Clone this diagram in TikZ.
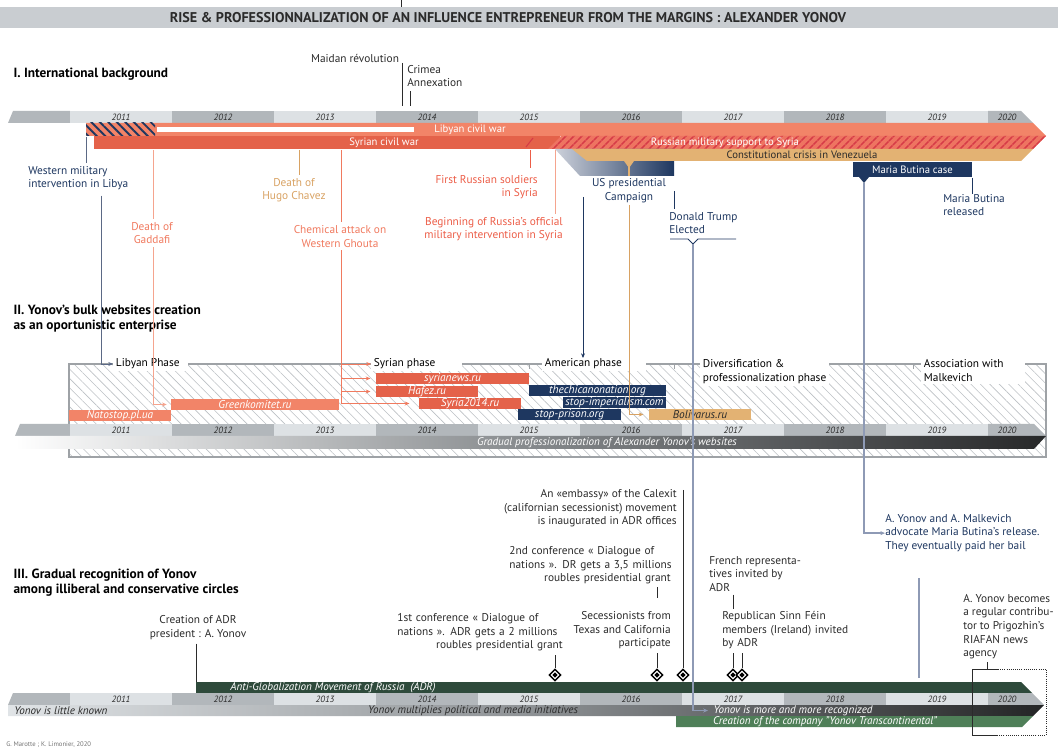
\documentclass[tikz,border=0pt]{standalone}
\usepackage{fontspec}
\setmainfont{PT Sans}
\usetikzlibrary{positioning, arrows.meta, patterns.meta, shapes.geometric}

\definecolor{salmon}{HTML}{F28468}
\definecolor{syred}{HTML}{E4624A}
\definecolor{rusbase}{HTML}{EE7461}
\definecolor{rushatch}{HTML}{D63B47}
\definecolor{navy}{HTML}{1E3760}
\definecolor{uslight}{HTML}{CDD1DA}
\definecolor{sand}{HTML}{E3B273}
\definecolor{adrgreen}{HTML}{2E4A3B}
\definecolor{cogreen}{HTML}{4F7F58}
\definecolor{yrlight}{HTML}{DDE1E4}
\definecolor{yrdark}{HTML}{B2B7BB}
\definecolor{bandgrey}{HTML}{C9CDD1}
\definecolor{hatchgrey}{HTML}{BCC0C4}
\definecolor{framegrey}{HTML}{9EA2A6}
\definecolor{navyline}{HTML}{8E9AB5}
\definecolor{wlinec}{HTML}{5B6985}
\definecolor{salmontxt}{HTML}{F07A5F}
\definecolor{salmonline}{HTML}{F5A48E}
\definecolor{redtxt}{HTML}{EC5D47}
\definecolor{sandtxt}{HTML}{D8A263}
\definecolor{darktxt}{HTML}{2B2B2B}

% year strip: top y, tip x, tip y, left x
\newcommand{\yearstrip}[4]{%
  \fill[yrdark] (#4,#1+12) -- (#4+5,#1) -- (70,#1) -- (70,#1+12) -- cycle;
  \foreach \k in {0,...,8}{%
    \ifodd\k\relax\def\yc{yrdark}\else\def\yc{yrlight}\fi
    \fill[\yc] ({70+102*\k},#1) rectangle ++(102,12);
    \pgfmathtruncatemacro\yr{2011+\k}
    \node[yeartxt] (yl\yr-#1) at ({121+102*\k},#1+6) {\yr};
  }
  \fill[yrdark] (988,#1) -- ({#2-(#3-#1)},#1) -- ({#2-(#3-#1-12)},#1+12) -- (988,#1+12) -- cycle;
  \node[yeartxt] (yl2020-#1) at (1007,#1+6) {2020};
}
\newcommand{\jline}[2]{\makebox[#1][s]{#2}}

\begin{document}
\begin{tikzpicture}[x=0.75pt, y=-0.75pt, >={Stealth[length=3.5pt,width=3pt]},
  lbl/.style={font=\fontsize{8.5}{10.25}\selectfont, inner sep=0pt},
  head/.style={font=\fontsize{10}{11.5}\selectfont\bfseries, inner sep=1pt, align=left, anchor=north west, fill=white},
  bartxt/.style={font=\fontsize{8}{9}\selectfont, text=white, inner sep=0pt},
  yeartxt/.style={font=\fontsize{6.8}{7}\selectfont\itshape, text=darktxt, inner sep=0pt},
  site/.style={minimum width=#1*0.75pt, minimum height=8.25pt, inner sep=0pt, font=\fontsize{8.5}{9}\selectfont\itshape, text=white},
  phase/.style={lbl, fill=white, inner xsep=2pt, inner ysep=1.5pt, align=left},
  evt/.style={diamond, draw=black, fill=white, line width=1.1pt, minimum size=9pt, inner sep=0pt,
    path picture={\fill[black] (path picture bounding box.center) ++(0,2pt) -- ++(2pt,-2pt) -- ++(-2pt,-2pt) -- ++(-2pt,2pt) -- cycle;}},
  evline/.style={draw=darktxt, line width=0.6pt},
  longline/.style={draw=navyline, line width=1.1pt}]

\useasboundingbox (0,0) rectangle (1058,752);

% Title
\fill[bandgrey] (0,7) rectangle (1058,28);
\coordinate (tt1) at (401,0);
\coordinate (tt2) at (401,7);
\draw[darktxt, line width=0.5pt] (tt1) -- (tt2);
\node[font=\fontsize{10.6}{12}\selectfont\bfseries, text=darktxt] (title) at (508,17.5) {RISE \& PROFESSIONNALIZATION OF AN INFLUENCE ENTREPRENEUR FROM THE MARGINS : ALEXANDER YONOV};

% I. International background
\node[head] (h1) at (12,66) {I. International background};
\node[lbl, text=darktxt] (maidan) at (355,58) {Maidan révolution};
\node[lbl, text=darktxt, align=left, anchor=north west] (crimea) at (407,65) {Crimea\\Annexation};
\coordinate (maidtop) at (402,63);
\coordinate (maidbot) at (402,106);
\coordinate (crimbot) at (410,106);
\draw[darktxt, line width=0.5pt] (maidtop) -- (maidbot);
\draw[darktxt, line width=0.5pt, shorten <=3pt] (crimbot |- crimea.south) -- (crimbot);

\yearstrip{111}{1046}{136}{8}

% Libyan civil war
\fill[salmon] (86,123) -- (1033,123) -- (1046,136) -- (86,136) -- cycle;
\fill[pattern={Lines[angle=-45,distance=4.5pt,line width=1.4pt]}, pattern color=navy] (86,123) rectangle (155,136);
\fill[white] (157,127) rectangle (414,132);
\node[bartxt] (libwar) at (470,129.5) {Libyan civil war};

% Syrian civil war and Russian support
\fill[syred] (94,136) rectangle (560,149);
\fill[rusbase] (548,149) -- (561,136) -- (1046,136) -- (1033,149) -- cycle;
\fill[pattern={Lines[angle=45,distance=4pt,line width=1.3pt]}, pattern color=rushatch] (548,149) -- (561,136) -- (1046,136) -- (1033,149) -- cycle;
\draw[rushatch, line width=0.8pt] (526,147) -- (533,138);
\node[bartxt] (syrwar) at (384,142.5) {Syrian civil war};
\node[bartxt] (russup) at (725,142.5) {Russian military support to Syria};

% US campaign and Venezuela
\shade[left color=uslight, right color=navy] (555,149) -- (674,149) -- (674,176) -- (580,176) -- cycle;
\fill[sand] (572,149) -- (1033,149) -- (1021,161) -- (587,161) -- cycle;
\node[bartxt, text=darktxt] (venez) at (802,155) {Constitutional crisis in Venezuela};
\fill[sand] (624,161) -- (634,161) -- (629,168) -- cycle;
\draw[sand, line width=0.8pt] (629,161) -- (629,176);

% Maria Butina
\node[fill=navy, bartxt, minimum width=119*0.75pt, minimum height=15*0.75pt] (butina) at (912.5,169.5) {Maria Butina case};
\fill[navy] (859,177) -- (869,177) -- (864,183) -- cycle;

% Event labels
\node[lbl, text=navy, align=left, anchor=north west] (wlibya) at (28,166) {Western military\\intervention in Libya};
\node[lbl, text=salmontxt, align=center, anchor=north] (gaddafi) at (152,222) {Death of\\Gaddafi};
\node[lbl, text=sandtxt, align=center, anchor=north] (chavez) at (294,178) {Death of\\Hugo Chavez};
\node[lbl, text=salmontxt, align=center, anchor=north] (ghouta) at (340,225) {Chemical attack on\\Western Ghouta};
\node[lbl, text=redtxt, align=right, anchor=north east] (soldiers) at (538,175) {First Russian soldiers\\in Syria};
\node[lbl, text=redtxt, align=right, anchor=north east] (begin) at (563,217) {Beginning of Russia's official\\military intervention in Syria};
\node[lbl, text=navy, align=center, anchor=north] (uscamp) at (629,178) {US presidential\\Campaign};
\node[lbl, text=navy, align=left, anchor=north west] (trump) at (669,212) {Donald Trump\\Elected};
\node[lbl, text=navy, align=left, anchor=north west] (released) at (943,194) {Maria Butina\\released};

\coordinate (wtop) at (86,137);
\coordinate (wdown) at (101,193);
\coordinate (gtop) at (153,150);
\coordinate (ctop) at (299,150);
\coordinate (ghtop) at (341,150);
\coordinate (stop) at (530,150);
\coordinate (btop) at (555,150);
\coordinate (amtop) at (583,197);
\coordinate (amtip) at (583,358);
\coordinate (trtick) at (674,191);
\coordinate (trv) at (693,244);
\coordinate (butv) at (864,183);
\coordinate (reltick) at (972,178);

\draw[wlinec, line width=0.6pt, shorten >=2pt] (wtop) -- (wtop |- wlibya.north);
\draw[salmonline, line width=0.7pt, shorten >=2pt] (gtop) -- (gtop |- gaddafi.north);
\draw[sandtxt, line width=0.6pt, shorten >=2pt] (ctop) -- (ctop |- chavez.north);
\draw[salmontxt, line width=0.6pt, shorten >=2pt] (ghtop) -- (ghtop |- ghouta.north);
\draw[redtxt, line width=0.6pt, shorten >=5pt] (stop) -- (stop |- soldiers.north);
\draw[salmonline, line width=0.7pt, shorten >=2pt] (btop) -- (btop |- begin.north);
\draw[navy, line width=0.6pt, shorten >=2pt] (trtick) -- (trtick |- trump.north);
\draw[navy, line width=0.6pt] (reltick) -- (reltick |- released.north);
\draw[navy, line width=0.6pt] (670,239) -- (688,239) -- (trv) -- (698,239) -- (736,239);

% II. Website creation
\fill[pattern={Lines[angle=-45,distance=5pt,line width=0.45pt]}, pattern color=hatchgrey] (69,364) rectangle (1046,457);
\draw[framegrey, line width=0.8pt] (69,364) rectangle (1046,457);
\foreach \tx in {529,674,913}
  \draw[framegrey, line width=0.6pt] (\tx,364) -- (\tx,369);

\yearstrip{424}{1046}{436}{15}
\shade[left color=white, right color=black!78!yrdark, middle color=black!25!yrdark] (15,436) -- (1046,436) -- (1034,449) -- (15,449) -- cycle;
\node[bartxt, font=\fontsize{8.3}{9}\selectfont\itshape] (gradual) at (607,442.5) {Gradual professionalization of Alexander Yonov's websites};

% Websites
\node[site=102, fill=salmon] (natostop) at (120,416) {Natostop.pl.ua};
\node[site=168, fill=salmon] (green) at (255,404.5) {Greenkomitet.ru};
\node[site=153, fill=syred] (syrnews) at (452.5,378.5) {syrianews.ru};
\node[site=102, fill=syred] (hafez) at (427,391.5) {Hafez.ru};
\node[site=102, fill=syred] (syr14) at (470,403.5) {Syria2014.ru};
\node[site=137, fill=navy] (chicano) at (597.5,390.7) {thechicanonation.org};
\node[site=103, fill=navy] (imper) at (614.5,402.5) {stop-imperialism.com};
\node[site=103, fill=navy] (prison) at (569.5,414.7) {stop-prison.org};
\node[site=102, fill=sand, text=darktxt] (boliv) at (700,414.5) {Bolivarus.ru};

% Phases
\node[phase, anchor=west] (libph) at (113,364) {Libyan Phase\hspace*{4pt}};
\node[phase, anchor=west] (syrph) at (371,364) {Syrian phase\hspace*{18pt}};
\node[phase, anchor=west] (amph) at (542,364) {American phase\hspace*{16pt}};
\node[phase, anchor=north west] (divph) at (700,357.5) {Diversification \&\hspace*{22pt}\\professionalization phase};
\node[phase, anchor=north west] (assph) at (921,357.5) {Association with\hspace*{14pt}\\Malkevich};

\node[head] (h2) at (12,303) {II. Yonov's bulk websites creation\\as an oportunistic enterprise};

% Arrows into phases and websites
\draw[wlinec, line width=0.6pt, ->, shorten <=2pt] (wdown) |- (libph.west);
\draw[salmonline, line width=0.7pt, ->, shorten >=3pt, shorten <=2pt] (gaddafi.south -| gtop) |- (green.west);
\draw[salmontxt, line width=0.6pt, ->, shorten >=7pt, shorten <=2pt] (ghouta.south -| ghtop) |- (syr14.west);
\draw[salmontxt, line width=0.6pt, ->] (ghtop |- syrph.west) -- (syrph.west);
\draw[salmontxt, line width=0.6pt, ->, shorten >=4pt] (ghtop |- syrnews.west) -- (syrnews.west);
\draw[salmontxt, line width=0.6pt, ->, shorten >=4pt] (ghtop |- hafez.west) -- (hafez.west);
\draw[sandtxt, line width=0.6pt, ->, shorten >=4pt, shorten <=2pt] (uscamp.south -| uscamp) |- (boliv.west);
\draw[navy, line width=0.6pt, ->] (amtop) -- (amtip);

% III. Recognition
\node[head] (h3) at (12,567) {III. Gradual recognition of Yonov\\among illiberal and conservative circles};

\fill[adrgreen] (196,682) -- (1021,682) -- (1032,693) -- (196,693) -- cycle;
\coordinate (adrstart) at (196,682);
\node[bartxt, font=\fontsize{8.3}{9}\selectfont\itshape] (adr) at (333,687.5) {Anti-Globalization Movement of Russia~ (ADR)};

\yearstrip{693}{1044}{705}{8}
\shade[left color=yrlight!90!white, right color=black!80!yrdark, middle color=black!20!yrdark] (8,705) -- (1044,705) -- (1033,716) -- (8,716) -- cycle;
\fill[cogreen] (676,716) -- (1033,716) -- (1022,727) -- (676,727) -- cycle;
\node[bartxt, font=\fontsize{8.3}{9}\selectfont\itshape, text=darktxt, anchor=west] (little) at (14,710.5) {Yonov is little known};
\node[bartxt, font=\fontsize{8.3}{9}\selectfont\itshape, text=darktxt] (multi) at (473,710.5) {Yonov multiplies political and media initiatives};
\node[bartxt, font=\fontsize{8.3}{9}\selectfont\itshape] (recog) at (793,710.5) {Yonov is more and more recognized};
\node[bartxt, font=\fontsize{8.3}{9}\selectfont\itshape] (company) at (825,721.5) {Creation of the company "Yonov Transcontinental"};

% Events
\node[evt] (d1) at (555,675) {};
\node[evt] (d2) at (657,675) {};
\node[evt] (d3) at (683,675) {};
\node[evt] (d4) at (733,675) {};
\node[evt] (d5) at (742,675) {};

\node[lbl, text=darktxt, align=center, anchor=north] (creadr) at (198,615) {Creation of ADR\\president : A. Yonov};
\node[lbl, text=darktxt, align=right, anchor=north east, text width=124pt] (conf1) at (563,613)
  {\jline{124pt}{1st conference « Dialogue of}\\\jline{124pt}{nations ». ADR gets a 2 millions}\\roubles presidential grant};
\node[lbl, text=darktxt, align=right, anchor=north east, text width=121pt] (conf2) at (671,546)
  {\jline{121pt}{2nd conference « Dialogue of}\\\jline{121pt}{nations ». DR gets a 3,5 millions}\\roubles presidential grant};
\node[lbl, text=darktxt, align=right, anchor=north east] (secess) at (671,611) {Secessionists from\\Texas and California\\participate};
\node[lbl, text=darktxt, align=right, anchor=north east] (embassy) at (677,489) {An «embassy» of the Calexit\\(californian secessionist) movement\\is inaugurated in ADR offices};
\node[lbl, text=darktxt, align=left, anchor=north west] (french) at (709,556) {French representa-\\tives invited by\\ADR};
\node[lbl, text=darktxt, align=left, anchor=north west, text width=98pt] (sinn) at (722,611)
  {\jline{98pt}{Republican Sinn Féin}\\\jline{98pt}{members (Ireland) invited}\\by ADR};
\node[lbl, text=navy, align=left, anchor=north west] (malk) at (885,514) {A. Yonov and A. Malkevich\\advocate Maria Butina's release.\\They eventually paid her bail};
\node[lbl, text=darktxt, align=left, anchor=north west] (riafan) at (963,594) {A. Yonov becomes\\a regular contribu-\\tor to Prigozhin's\\RIAFAN news\\agency};

\coordinate (embtop) at (683,490);
\coordinate (c2tick) at (657,598);
\coordinate (frtick) at (733,609);
\coordinate (l19a) at (919,578);
\coordinate (l19b) at (919,678);
\coordinate (riatick) at (987,669);

\draw[evline, shorten <=3pt] (creadr.south -| adrstart) -- (adrstart);
\draw[evline, shorten <=3pt] (d1 |- conf1.south) -- (d1.north);
\draw[evline, shorten <=3pt] (d2 |- secess.south) -- (d2.north);
\draw[evline, shorten <=2pt] (d2 |- conf2.south) -- (c2tick);
\draw[evline] (embtop) -- (d3.north);
\draw[evline, shorten <=2pt] (d4 |- french.south) -- (frtick);
\draw[evline, shorten <=3pt] (d4 |- sinn.south) -- (d4.north);
\draw[evline, shorten <=3pt] (d5 |- sinn.south) -- (d5.north);
\draw[evline, shorten <=2pt] (riatick |- riafan.south) -- (riatick);

% Dotted frame on 2020
\draw[darktxt, line width=0.6pt] (998,669) -- (972,669) -- (972,735) -- (998,735);
\draw[darktxt, line width=0.6pt, densely dotted] (998,669) -- (1046,669) -- (1046,735) -- (998,735);

% Long connectors
\draw[longline, ->, shorten >=4pt] (trv) |- (recog.west);
\draw[longline, ->] (butv) |- (malk.west);
\draw[longline] (l19a) -- (l19b);

\node[font=\fontsize{5}{6}\selectfont, text=black!55, anchor=west, inner sep=0pt] (credit) at (6,745) {G. Marotte ; K. Limonier, 2020};

\end{tikzpicture}
\end{document}
